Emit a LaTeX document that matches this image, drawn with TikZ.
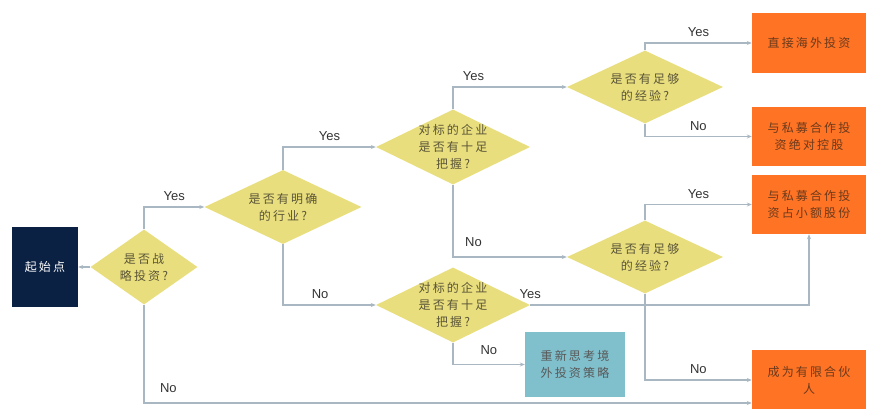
\documentclass[tikz,border=0pt]{standalone}
\usepackage{fontspec}
\setmainfont{Liberation Sans}
\newfontfamily\cjk[LetterSpace=18]{Noto Sans CJK SC}
\usetikzlibrary{shapes.geometric,arrows.meta}
\definecolor{navy}{HTML}{0B2144}
\definecolor{sand}{HTML}{E9DE7D}
\definecolor{tangerine}{HTML}{FF7324}
\definecolor{lagoon}{HTML}{80BFCC}
\definecolor{wire}{HTML}{A9B7C3}
\definecolor{asktext}{HTML}{5A5538}
\definecolor{boxtext}{HTML}{6A3A1C}

\begin{document}
\begin{tikzpicture}[
        x=1pt, y=-1pt,
        every node/.style={font=\fontsize{13}{15}\selectfont},
        ask/.style={diamond, fill=sand, inner sep=0pt, minimum width=154pt, minimum height=74pt,
            label={[align=center, text=asktext, font=\cjk\fontsize{12}{17}\selectfont]center:#1}},
        outcome/.style={rectangle, fill=tangerine, minimum width=114pt, minimum height=60pt,
            align=center, text=boxtext, font=\cjk\fontsize{12}{17}\selectfont},
        link/.style={draw=wire, line width=1.3pt, -{Stealth[length=5pt,width=4pt]}},
        ans/.style={above=2pt, text=black!80}
    ]
        \useasboundingbox (0,0) rectangle (869,408);

        \node[fill=navy, minimum width=66pt, minimum height=80pt, text=white,
            font=\cjk\fontsize{12}{17}\selectfont] (start) at (45,267) {起始点};

        \node[ask={是否战\\略投资?}, minimum width=107pt, minimum height=75pt] (d1) at (144,267) {};
        \node[ask={是否有明确\\的行业?}, minimum width=157pt] (d2) at (283,207) {};
        \node[ask={对标的企业\\是否有十足\\把握?}, minimum height=75pt] (d3) at (453,147) {};
        \node[ask={对标的企业\\是否有十足\\把握?}, minimum height=75pt] (d4) at (453,305) {};
        \node[ask={是否有足够\\的经验?}, minimum width=156pt, minimum height=73pt] (d5) at (645,87) {};
        \node[ask={是否有足够\\的经验?}, minimum width=156pt, minimum height=73pt] (d6) at (645,257) {};

        \node[outcome] (box1) at (809,43) {直接海外投资};
        \node[outcome, minimum height=59pt] (box2) at (809,136.5) {与私募合作投\\资绝对控股};
        \node[outcome, minimum height=59pt] (box3) at (809,204.5) {与私募合作投\\资占小额股份};
        \node[outcome] (box4) at (809,380) {成为有限合伙\\人};
        \node[fill=lagoon, minimum width=100pt, minimum height=65pt, align=center,
            text=black!65, font=\cjk\fontsize{12}{17}\selectfont] (redo) at (575,364.5) {重新思考境\\外投资策略};

        \draw[link] (d1.west) -- (start.east);
        \draw[link] (d1.north) |- (d2.west) node[ans, pos=0.75] {Yes};
        \draw[link] (d1.south) |- ([yshift=-23pt]box4.west) node[ans, pos=0.52, above=4pt] {No};
        \draw[link] (d2.north) |- (d3.west) node[ans, pos=0.75] {Yes};
        \draw[link] (d2.south) |- (d4.west) node[ans, pos=0.7] {No};
        \draw[link] (d3.north) |- (d5.west) node[ans, pos=0.59] {Yes};
        \draw[link] (d3.south) |- (d6.west) node[ans, pos=0.59, above=4pt] {No};
        \draw[link] (d4.east) -| (box3.south) node[ans, pos=0, above=0pt] {Yes};
        \draw[link] (d4.south) |- (redo.west) node[ans, pos=0.75, above=4pt] {No};
        \draw[link] (d5.north) |- (box1.west) node[ans, pos=0.75] {Yes};
        \draw[link] (d5.south) |- (box2.west) node[ans, pos=0.75, above=0pt] {No};
        \draw[link] (d6.north) |- (box3.west) node[ans, pos=0.75, above=0pt] {Yes};
        \draw[link] (d6.south) |- (box4.west) node[ans, pos=0.75] {No};
    \end{tikzpicture}
\end{document}
